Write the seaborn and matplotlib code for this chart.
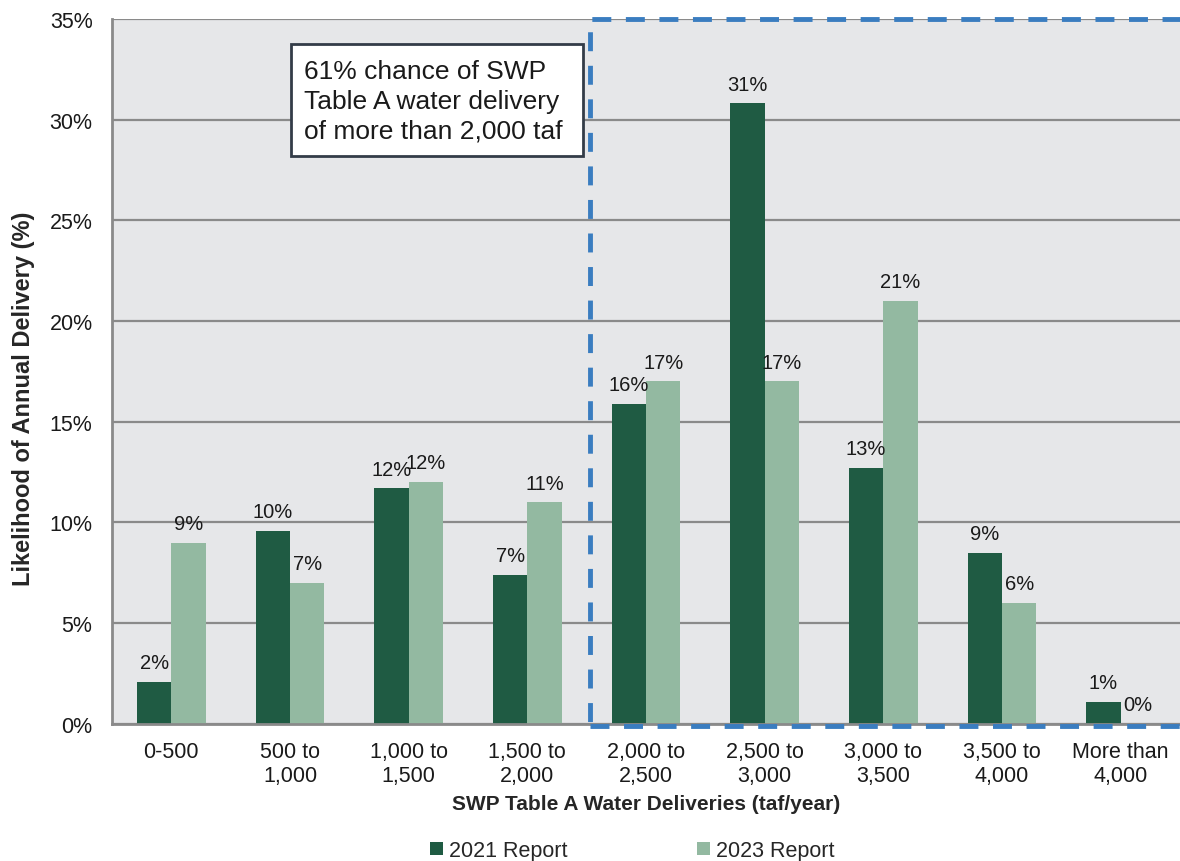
import numpy as np
import pandas as pd
import seaborn as sns
import matplotlib.pyplot as plt
from matplotlib.patches import Rectangle
from matplotlib.ticker import FuncFormatter

# SWP Table A delivery likelihood, 2021 vs 2023 report
ranges = ["0-500", "500 to\n1,000", "1,000 to\n1,500", "1,500 to\n2,000", "2,000 to\n2,500",
          "2,500 to\n3,000", "3,000 to\n3,500", "3,500 to\n4,000", "More than\n4,000"]
report_2021 = [2.1, 9.6, 11.7, 7.4, 15.9, 30.8, 12.7, 8.5, 1.1]
report_2023 = [9.0, 7.0, 12.0, 11.0, 17.0, 17.0, 21.0, 6.0, 0.0]
labels_2021 = ["2%", "10%", "12%", "7%", "16%", "31%", "13%", "9%", "1%"]
labels_2023 = ["9%", "7%", "12%", "11%", "17%", "17%", "21%", "6%", "0%"]
series = ["2021 Report", "2023 Report"]
note = "61% chance of SWP\nTable A water delivery\nof more than 2,000 taf"

df = pd.DataFrame({
    "Range": ranges * 2,
    "Pct": report_2021 + report_2023,
    "Report": [series[0]] * len(ranges) + [series[1]] * len(ranges),
})

sns.set_style("white")
plt.rcParams["font.family"] = ["Liberation Sans", "DejaVu Sans"]

fig = plt.figure(figsize=(11.8, 8.62), dpi=100)
ax = fig.add_axes([0.0949, 0.159, 0.9051, 0.818])
ax.set_facecolor("#e6e7e9")

sns.barplot(data=df, x="Range", y="Pct", hue="Report", palette=["#1f5b43", "#93b9a1"],
            width=0.58, saturation=1, linewidth=0, ax=ax, legend=True)

for cont, labs in zip(ax.containers, [labels_2021, labels_2023]):
    ax.bar_label(cont, labels=labs, padding=7, fontsize=14.5, color="#1a1a1a")

ax.set_ylim(0, 35)
ax.set_xlim(-0.5, len(ranges) - 0.5)
ax.set_yticks(np.arange(0, 36, 5))
ax.yaxis.set_major_formatter(FuncFormatter(lambda v, p: f"{v:.0f}%"))
ax.grid(axis="y", color="#8a8a8a", lw=1.6)
ax.set_axisbelow(True)

for s in ["top", "right"]:
    ax.spines[s].set_visible(False)
for s in ["left", "bottom"]:
    ax.spines[s].set_color("#8a8a8a")
    ax.spines[s].set_linewidth(2)

ax.tick_params(axis="y", length=5, width=1.6, color="#8a8a8a", pad=9, labelsize=15.5, labelcolor="#1a1a1a")
ax.tick_params(axis="x", which="major", length=0, pad=12, labelsize=15.5, labelcolor="#1a1a1a")
ax.set_xticks(np.arange(-0.5, len(ranges), 1), minor=True)
ax.tick_params(axis="x", which="minor", length=5, width=1.6, color="#8a8a8a")

ax.set_xlabel("SWP Table A Water Deliveries (taf/year)", fontsize=15, fontweight="bold", labelpad=6)
ax.set_ylabel("Likelihood of Annual Delivery (%)", fontsize=17, fontweight="bold")
ax.yaxis.set_label_coords(-0.072, 0.462)

# dashed region for deliveries above 2,000 taf
ax.add_patch(Rectangle((3.53, -0.1), 5.1, 35.1, fill=False, edgecolor="#3a7dc0",
                       lw=3.5, ls=(0, (3.9, 3.0)), clip_on=False, zorder=5))

# annotation box
ax.add_patch(Rectangle((1.008, 28.17), 2.46, 5.6, facecolor="white", edgecolor="#333c48",
                       lw=2, zorder=6))
ax.text(1.12, 33.0, note, fontsize=19, va="top", ha="left", linespacing=1.3,
        color="#1a1a1a", zorder=7)

ax.legend(loc="center", bbox_to_anchor=(0.536, 0.012), bbox_transform=fig.transFigure,
          ncol=2, frameon=False, fontsize=15.5, handlelength=0.6, handleheight=0.6,
          handletextpad=0.3, columnspacing=6)

fig.savefig("out.png", dpi=100)
